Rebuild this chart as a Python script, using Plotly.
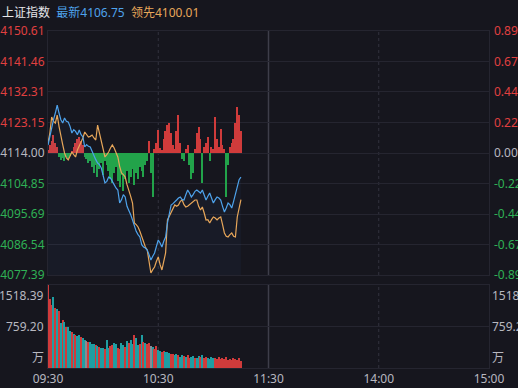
import plotly.graph_objects as go

# ---------------- data ----------------
index_name = "上证指数"
latest_label = "最新4106.75"
lead_label = "领先4100.01"
prev_close = 4114.00

x_tick_minutes = [0, 60, 120, 180, 240]
x_tick_labels = ["09:30", "10:30", "11:30", "14:00", "15:00"]

price_ticks = [4150.61, 4141.46, 4132.31, 4123.15, 4114.00, 4104.85, 4095.69, 4086.54, 4077.39]
pct_labels = ["0.89%", "0.67%", "0.44%", "0.22%", "0.00%", "-0.22%", "-0.44%", "-0.67%", "-0.89%"]

# blue: index (最新)
index_vals = [
    4116.4, 4119.0, 4122.0, 4124.0, 4126.0, 4128.4, 4126.0, 4124.0, 4123.0, 4124.5,
    4123.5, 4123.3, 4122.0, 4120.0, 4121.0, 4120.5, 4119.5, 4120.9, 4119.5, 4118.8,
    4115.8, 4116.5, 4116.0, 4115.8, 4114.5, 4113.0, 4112.0, 4111.0, 4110.5, 4109.5,
    4107.0, 4105.0, 4105.5, 4106.8, 4106.5, 4105.3, 4104.5, 4103.5, 4102.9, 4099.0,
    4100.0, 4101.5, 4100.8, 4098.0, 4096.9, 4095.5, 4093.9, 4091.8, 4090.5, 4089.5,
    4088.8, 4086.5, 4085.8, 4085.5, 4084.9, 4083.5, 4081.9, 4083.0, 4084.0, 4086.0,
    4087.9, 4087.0, 4085.8, 4087.5, 4088.8, 4093.0, 4096.0, 4098.4, 4098.8, 4099.5,
    4099.9, 4100.5, 4100.8, 4100.0, 4099.9, 4101.5, 4102.9, 4102.0, 4100.8, 4101.5,
    4102.5, 4102.9, 4102.3, 4102.0, 4102.9, 4101.5, 4099.9, 4101.0, 4102.0, 4100.5,
    4099.0, 4100.0, 4100.8, 4100.5, 4099.9, 4098.0, 4096.3, 4097.5, 4099.0, 4098.5,
    4097.5, 4099.5, 4101.5, 4103.5, 4106.0, 4106.75,
]

# orange: leading index (领先)
lead_vals = [
    4117.0, 4120.0, 4124.8, 4123.5, 4123.0, 4125.4, 4122.0, 4118.8, 4116.5, 4114.0,
    4112.5, 4111.9, 4113.0, 4114.3, 4113.5, 4112.8, 4114.9, 4116.0, 4117.0, 4118.5,
    4120.3, 4119.5, 4118.8, 4119.0, 4119.4, 4118.5, 4117.9, 4122.4, 4120.0, 4117.0,
    4115.0, 4112.8, 4113.5, 4114.3, 4115.5, 4116.4, 4115.5, 4114.0, 4112.8, 4110.0,
    4108.0, 4107.5, 4106.8, 4104.5, 4102.9, 4101.0, 4099.0, 4093.0, 4092.5, 4091.8,
    4090.5, 4088.8, 4087.0, 4085.8, 4084.9, 4082.0, 4078.0, 4079.0, 4079.8, 4081.5,
    4082.8, 4080.5, 4078.9, 4081.5, 4084.0, 4093.9, 4095.0, 4096.0, 4097.0, 4098.4,
    4098.0, 4098.4, 4099.5, 4099.9, 4098.5, 4097.8, 4098.0, 4098.5, 4099.0, 4099.5,
    4099.9, 4099.9, 4098.0, 4096.9, 4097.8, 4096.0, 4093.9, 4094.0, 4093.0, 4094.0,
    4094.8, 4094.5, 4093.9, 4094.5, 4094.8, 4092.5, 4090.0, 4089.0, 4088.8, 4089.5,
    4090.0, 4089.0, 4088.8, 4094.8, 4097.5, 4100.01,
]

# red/green strength bars around the previous close (index points)
strength_vals = [
    0.9, 2.4, 3.6, 5.4, 3.0, 1.8, -1.2, -2.1, -1.5, -2.4,
    -1.2, -1.8, -0.9, 0.6, 1.8, 3.0, 4.2, 4.8, 3.6, 2.4,
    -1.2, -1.8, -3.0, -2.4, -4.2, -6.0, -3.6, -7.2, -4.8, -3.0,
    -6.6, -2.4, -3.6, -5.4, -7.8, -9.0, -6.0, -4.2, -8.4, -10.2,
    -6.6, -11.4, -7.8, -5.4, -9.0, -7.2, -4.8, -9.6, -6.0, -7.8,
    -4.2, -5.4, -7.2, -3.6, -2.4, 3.6, -6.0, -13.2, 1.2, 3.0,
    6.9, 1.5, 0.9, 4.2, 6.6, 8.4, 9.0, 6.0, 2.4, 1.2,
    6.6, 11.4, 3.0, -1.8, -2.4, 1.2, 2.4, -3.6, -7.8, -6.0,
    1.2, 6.0, 7.8, 4.2, -9.0, 1.8, 3.0, 4.8, -2.4, 1.8,
    1.2, 10.8, 4.2, 1.8, 7.2, 2.4, 1.2, -13.2, -3.6, 1.8,
    3.0, 4.2, 9.0, 13.8, 11.4, 6.6,
]

# volume (万) and direction of each minute: u = up, d = down, f = flat
volume_vals = [
    1518.39, 1260, 1150, 1300, 1100, 1080, 1040, 830, 870, 850,
    750, 750, 680, 650, 620, 600, 590, 610, 560, 540,
    520, 500, 470, 470, 440, 440, 420, 400, 380, 370,
    360, 350, 520, 360, 400, 420, 460, 440, 370, 350,
    460, 420, 380, 500, 460, 520, 440, 600, 540, 420,
    430, 610, 480, 450, 430, 460, 400, 380, 340, 400,
    330, 310, 300, 310, 290, 300, 280, 260, 250, 240,
    250, 230, 210, 240, 220, 200, 230, 190, 210, 220,
    190, 180, 220, 200, 230, 190, 200, 180, 170, 210,
    190, 180, 160, 200, 170, 180, 160, 200, 150, 170,
    140, 180, 160, 150, 180, 120,
]
volume_dir = list(
    "uuudududududdududduddf" "udddududdudduudduuddu"
    "dudduddududuufduudduudd" "duuddudduduudduddu"
    "duudddduuu"
    "uuuuuu"
)
vol_max = 1518.39
vol_mid = 759.20

# ---------------- build ----------------
n = len(index_vals)
minutes = list(range(n))
volume_dir = (volume_dir + ["u"] * n)[:n]

BG = "#16161e"
GRID = "#252530"
RED = "#d03b3b"
GREEN = "#22a34a"
TEAL = "#1f9ea3"
BLUE = "#4ea3ec"
ORANGE = "#e8a75a"

fig = go.Figure()

# subtle fill below index line
fig.add_trace(go.Scatter(x=minutes, y=index_vals, mode="lines", line=dict(width=0),
                         fill="tozeroy", fillcolor="rgba(70,130,210,0.05)",
                         hoverinfo="skip", showlegend=False, xaxis="x", yaxis="y"))

# strength bars
fig.add_trace(go.Bar(x=minutes, y=strength_vals, base=prev_close, width=0.7,
                     marker=dict(color=[RED if v >= 0 else GREEN for v in strength_vals], line=dict(width=0)),
                     showlegend=False, xaxis="x", yaxis="y"))

# lines
fig.add_trace(go.Scatter(x=minutes, y=lead_vals, mode="lines", line=dict(color=ORANGE, width=1.2),
                         showlegend=False, xaxis="x", yaxis="y"))
fig.add_trace(go.Scatter(x=minutes, y=index_vals, mode="lines", line=dict(color=BLUE, width=1.2),
                         showlegend=False, xaxis="x", yaxis="y"))

# volume
cmap = {"u": RED, "d": TEAL, "f": "#8a8a92"}
fig.add_trace(go.Bar(x=minutes, y=volume_vals, width=0.7,
                     marker=dict(color=[cmap[d] for d in volume_dir], line=dict(width=0)),
                     showlegend=False, xaxis="x2", yaxis="y2"))


def tick_color(v, ref):
    if abs(v - ref) < 1e-9:
        return "#b8b8c0"
    return "#e04040" if v > ref else "#2fb055"


left_text = [f"<span style='color:{tick_color(v, prev_close)}'>{v:.2f}</span>" for v in price_ticks]
right_text = [f"<span style='color:{tick_color(v, prev_close)}'>{t}</span>" for v, t in zip(price_ticks, pct_labels)]

# invisible trace for the percent axis
fig.add_trace(go.Scatter(x=[0], y=[prev_close], mode="markers", marker=dict(opacity=0),
                         showlegend=False, hoverinfo="skip", xaxis="x", yaxis="y3"))

H = 388
top_px, main_bot_px, vol_top_px, vol_bot_px = 31, 275, 285, 368
plot_h = vol_bot_px - top_px
main_dom = [(vol_bot_px - main_bot_px) / plot_h, 1.0]
vol_dom = [0.0, (vol_bot_px - vol_top_px) / plot_h]

font_fam = "Noto Sans, Noto Sans CJK SC, sans-serif"
yrange = [price_ticks[-1], price_ticks[0]]

fig.update_layout(
    width=518, height=H,
    margin=dict(l=48, r=29, t=top_px, b=H - vol_bot_px, autoexpand=False),
    paper_bgcolor=BG, plot_bgcolor=BG,
    bargap=0, barmode="overlay",
    font=dict(family=font_fam, size=12, color="#b0b0b8"),
    xaxis=dict(domain=[0, 1], range=[0, 240], anchor="y", showticklabels=False,
               tickvals=x_tick_minutes, showgrid=False, zeroline=False,
               showline=True, linecolor=GRID, mirror=True, automargin=False),
    yaxis=dict(domain=main_dom, range=yrange, anchor="x",
               tickvals=price_ticks, ticktext=left_text, showgrid=True, gridcolor=GRID,
               gridwidth=1, zeroline=False, showline=True, linecolor=GRID, mirror=True,
               ticks="", ticklabelstandoff=0, tickfont=dict(size=12), automargin=False),
    yaxis3=dict(overlaying="y", side="right", anchor="x",
                range=yrange, tickvals=price_ticks, ticktext=right_text,
                showgrid=False, zeroline=False, ticks="", ticklabelstandoff=4,
                tickfont=dict(size=12), automargin=False),
    xaxis2=dict(domain=[0, 1], range=[0, 240], anchor="y2", tickvals=x_tick_minutes,
                ticktext=x_tick_labels, showgrid=False, zeroline=False,
                showline=True, linecolor=GRID, mirror=True, ticks="",
                tickfont=dict(size=12, color="#b8b8c0"), automargin=False),
    yaxis2=dict(domain=vol_dom, range=[0, vol_max], anchor="x2",
                tickvals=[0, vol_mid, vol_max], showticklabels=False,
                showgrid=True, gridcolor=GRID, zeroline=False,
                showline=True, linecolor=GRID, mirror=True, automargin=False),
)

# vertical session lines
for m, dash, col, w in [(60, "dot", "#33333f", 1), (120, "solid", "#3e3e4a", 1.5), (180, "dot", "#33333f", 1)]:
    for yref in ["y domain", "y2 domain"]:
        fig.add_shape(type="line", xref="x", yref=yref, x0=m, x1=m, y0=0, y1=1,
                      line=dict(color=col, width=w, dash=dash), layer="below")

# volume labels (left and right)
vol_labels = [(vol_max, f"{vol_max:.2f}", "top"), (vol_mid, f"{vol_mid:.2f}", "middle"), (0, "万", "bottom")]
for val, txt, ya in vol_labels:
    fig.add_annotation(xref="paper", yref="y2", x=0, y=val, text=txt, showarrow=False,
                       xanchor="right", yanchor=ya, xshift=-2,
                       font=dict(size=12, color="#b8b8c0"))
    fig.add_annotation(xref="paper", yref="y2", x=1, y=val, text=txt, showarrow=False,
                       xanchor="left", yanchor=ya, xshift=1,
                       font=dict(size=12, color="#b8b8c0"))

# header
fig.add_annotation(xref="paper", yref="paper", x=0, y=1, yshift=19, xshift=-48,
                   xanchor="left", yanchor="middle", showarrow=False,
                   text=(f"<span style='color:#e6e6ea'>{index_name}</span>  "
                         f"<span style='color:{BLUE}'>{latest_label}</span>  "
                         f"<span style='color:{ORANGE}'>{lead_label}</span>"),
                   font=dict(size=12, family=font_fam))

fig.write_html("out.html")
